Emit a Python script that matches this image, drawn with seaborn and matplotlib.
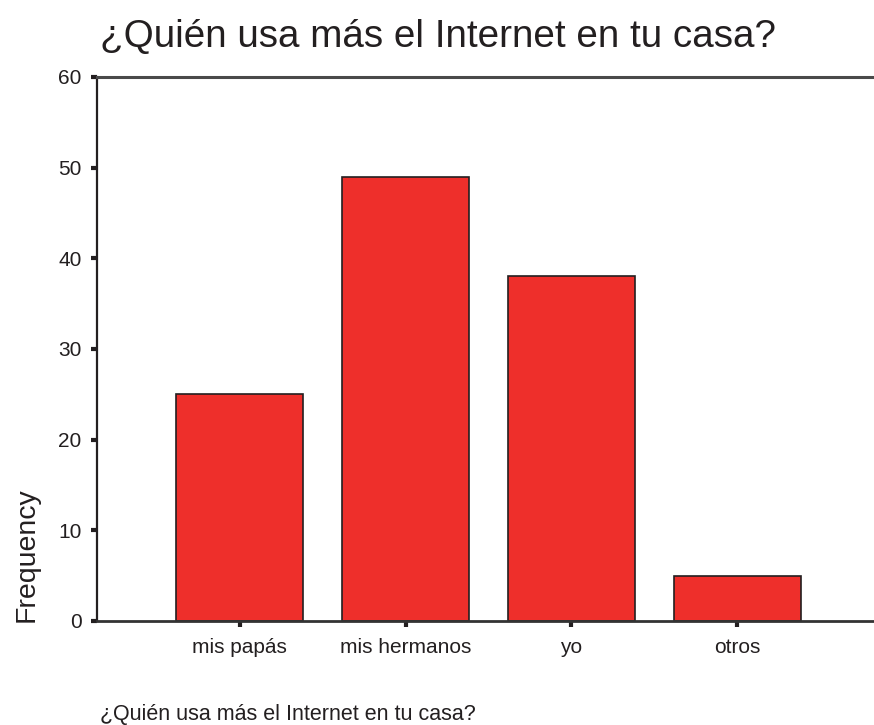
import matplotlib
matplotlib.use("Agg")
import matplotlib.pyplot as plt
import seaborn as sns
import pandas as pd

categories = ["mis papás", "mis hermanos", "yo", "otros"]
frequencies = [25, 49, 38, 5]
y_ticks = [0, 10, 20, 30, 40, 50, 60]
title_text = "¿Quién usa más el Internet en tu casa?"
x_label_text = "¿Quién usa más el Internet en tu casa?"
y_label_text = "Frequency"

sns.set_theme(style="white")
plt.rcParams["font.family"] = ["Liberation Sans", "DejaVu Sans"]

df = pd.DataFrame({"cat": categories, "freq": frequencies})

W, H = 874, 725
fig = plt.figure(figsize=(W / 100, H / 100), dpi=100)
ax = fig.add_axes([97 / W, 1 - 621 / H, (880 - 97) / W, (621 - 77) / H])

ink = "#231F20"
sns.barplot(data=df, x="cat", y="freq", order=categories, color="#EE2F2B",
            saturation=1, width=0.765, edgecolor=ink, linewidth=1.2, ax=ax)

ax.set_xlim(-0.86, 3.86)
ax.set_ylim(0, 60)
ax.set_yticks(y_ticks)
ax.set_yticklabels([str(v) for v in y_ticks])
ax.set_xlabel("")
ax.set_ylabel("")

ax.tick_params(axis="both", which="major", direction="out", length=4,
               width=3, color=ink, labelcolor=ink, labelsize=15, pad=7,
               left=True, bottom=True)
ax.tick_params(axis="x", pad=8)

ax.spines["left"].set_color(ink)
ax.spines["left"].set_linewidth(1.6)
ax.spines["bottom"].set_color("#333333")
ax.spines["bottom"].set_linewidth(2.0)
ax.spines["top"].set_color("#4a4a4a")
ax.spines["top"].set_linewidth(2.2)
ax.spines["right"].set_visible(False)
ax.grid(False)

fig.text(100 / W, 1 - 47 / H, title_text, fontsize=27.8, color=ink,
         ha="left", va="baseline")
fig.text(100 / W, 1 - 720 / H, x_label_text, fontsize=15.5, color=ink,
         ha="left", va="baseline")
fig.text(27 / W, 1 - 622 / H, y_label_text, fontsize=20.5, color=ink,
         rotation=90, ha="center", va="bottom")

fig.savefig("out.png", dpi=100)
